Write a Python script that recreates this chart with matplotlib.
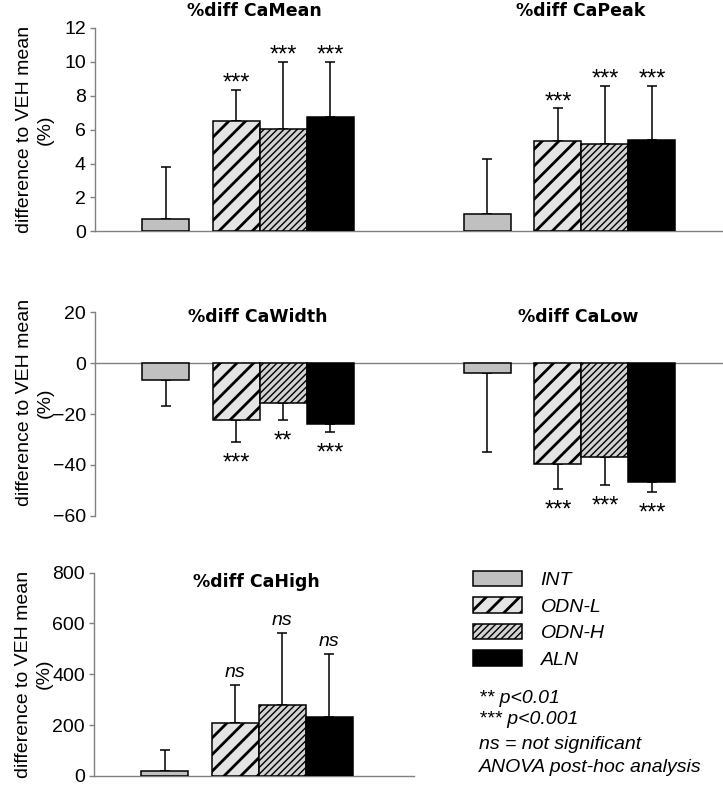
import matplotlib
matplotlib.use('Agg')
import matplotlib.pyplot as plt
import numpy as np

plt.rcParams['font.family'] = ['Liberation Sans', 'DejaVu Sans']
plt.rcParams['font.size'] = 14

# groups and their look
groups = ['INT', 'ODN-L', 'ODN-H', 'ALN']
faces = ['#c0c0c0', '#e4e4e4', '#d2d2d2', '#000000']
hatches = ['', '//', '/////', '']
hatch_lw = [1.0, 2.0, 1.0, 1.0]

# values (mean and upper/lower error length, in %)
camean = [0.7, 6.5, 6.05, 6.75]
camean_err = [3.1, 1.85, 3.95, 3.25]
capeak = [1.0, 5.35, 5.15, 5.4]
capeak_err = [3.25, 1.9, 3.4, 3.15]
cawidth = [-6.6, -22.2, -15.7, -24.1]
cawidth_err = [10.3, 8.7, 6.5, 3.1]
calow = [-3.8, -39.8, -37.0, -46.9]
calow_err = [31.2, 9.6, 11.1, 3.7]
cahigh = [21, 210, 277, 232]
cahigh_err = [81, 147, 285, 248]

camean_sig = ['', '***', '***', '***']
capeak_sig = ['', '***', '***', '***']
cawidth_sig = ['', '***', '**', '***']
calow_sig = ['', '***', '***', '***']
cahigh_sig = ['', 'ns', 'ns', 'ns']

notes = ['** p<0.01', '*** p<0.001', 'ns = not significant',
         'ANOVA post-hoc analysis']

# x layout of one panel (bar width = 1)
pos = np.array([1.5, 3.0, 4.0, 5.0])
shift = 6.85

W, H = 723, 785
fig = plt.figure(figsize=(W / 100, H / 100), dpi=100)


def px_axes(left, top, right, bottom):
    return fig.add_axes([left / W, 1 - bottom / H, (right - left) / W,
                         (bottom - top) / H])


def style(ax, ylim, step, xmax):
    ax.set_xlim(0, xmax)
    ax.set_ylim(*ylim)
    ax.set_yticks(np.arange(ylim[0], ylim[1] + step / 2, step))
    ax.set_xticks([])
    for s in ['top', 'right']:
        ax.spines[s].set_visible(False)
    for s in ['left', 'bottom']:
        ax.spines[s].set_color('#808080')
        ax.spines[s].set_linewidth(1.0)
    ax.spines['bottom'].set_position(('data', 0))
    ax.tick_params(axis='y', length=3.5, width=1.0, color='#808080', pad=3,
                   labelsize=14)
    ax.set_ylabel('difference to VEH mean\n(%)', linespacing=1.3)
    ax.patch.set_visible(False)


def star(ax, x, end, label, up):
    # place the label a few px beyond the error bar end
    if label == 'ns':
        em = 14 * 100 / 72
        d, c = 13, 0.27 * em
        kw = dict(style='italic', fontsize=14)
    else:
        em = 17 * 100 / 72
        d, c = 14, 0.575 * em
        kw = dict(fontsize=17)
    off = (d - c) if up else (-d - c)
    ax.annotate(label, xy=(x, end), xytext=(0, off * 0.72),
                textcoords='offset points', ha='center', va='baseline', **kw)


def panel(ax, x0, vals, errs, sigs):
    conts = []
    for i in range(4):
        v, e = vals[i], errs[i]
        with plt.rc_context({'hatch.linewidth': hatch_lw[i]}):
            b = ax.bar(pos[i] + x0, v, width=1.0, color=faces[i],
                       edgecolor='black', linewidth=1.1, hatch=hatches[i],
                       zorder=3)
        for p in b:
            if hasattr(p, 'set_hatch_linewidth'):
                p.set_hatch_linewidth(hatch_lw[i])
        conts.append(b)
        yerr = [[0], [e]] if v >= 0 else [[e], [0]]
        ax.errorbar(pos[i] + x0, v, yerr=yerr, fmt='none', ecolor='black',
                    elinewidth=1.1, capsize=3.5, capthick=1.1, zorder=2)
        if sigs[i]:
            up = v >= 0
            star(ax, pos[i] + x0, v + e if up else v - e, sigs[i], up)
    return conts


def title(ax, x, yfrac, txt):
    ax.text(x, yfrac, txt, transform=ax.get_xaxis_transform(), ha='center',
            va='center', fontsize=12.5, fontweight='bold',
            family='DejaVu Sans')


# row 1
ax1 = px_axes(95, 28, 723, 231.3)
style(ax1, (0, 12), 2, 628 / 47)
panel(ax1, 0, camean, camean_err, camean_sig)
panel(ax1, shift, capeak, capeak_err, capeak_sig)
title(ax1, 3.4, 1.085, '%diff CaMean')
title(ax1, 10.34, 1.085, '%diff CaPeak')
ax1.yaxis.set_label_coords(-0.066, 0.5)

# row 2
ax2 = px_axes(95, 312.3, 723, 515.7)
style(ax2, (-60, 20), 20, 628 / 47)
panel(ax2, 0, cawidth, cawidth_err, cawidth_sig)
panel(ax2, shift, calow, calow_err, calow_sig)
title(ax2, 3.46, 0.975, '%diff CaWidth')
title(ax2, 10.28, 0.975, '%diff CaLow')
ax2.yaxis.set_label_coords(-0.066, 0.555)

# row 3
ax3 = px_axes(94, 572.5, 414, 775.9)
style(ax3, (0, 800), 200, 320 / 47)
conts = panel(ax3, 0, cahigh, cahigh_err, cahigh_sig)
title(ax3, 3.46, 0.952, '%diff CaHigh')
ax3.yaxis.set_label_coords(-0.13, 0.5)

fs = 14 * 100 / 72
leg = fig.legend(conts, groups, loc='upper left',
                 bbox_to_anchor=(473 / W, 1 - 571 / H), frameon=False,
                 prop={'style': 'italic', 'size': 14},
                 handlelength=49 / fs, handleheight=16 / fs,
                 handletextpad=0.95, labelspacing=0.42, borderpad=0,
                 borderaxespad=0)
for h, lw in zip(leg.legend_handles, hatch_lw):
    if hasattr(h, 'set_hatch_linewidth'):
        h.set_hatch_linewidth(lw)

for txt, base in zip(notes, [702.7, 724, 749.3, 771.7]):
    fig.text(479 / W, 1 - base / H, txt, style='italic', fontsize=14,
             va='baseline', ha='left')

fig.savefig('out.png', dpi=100)
